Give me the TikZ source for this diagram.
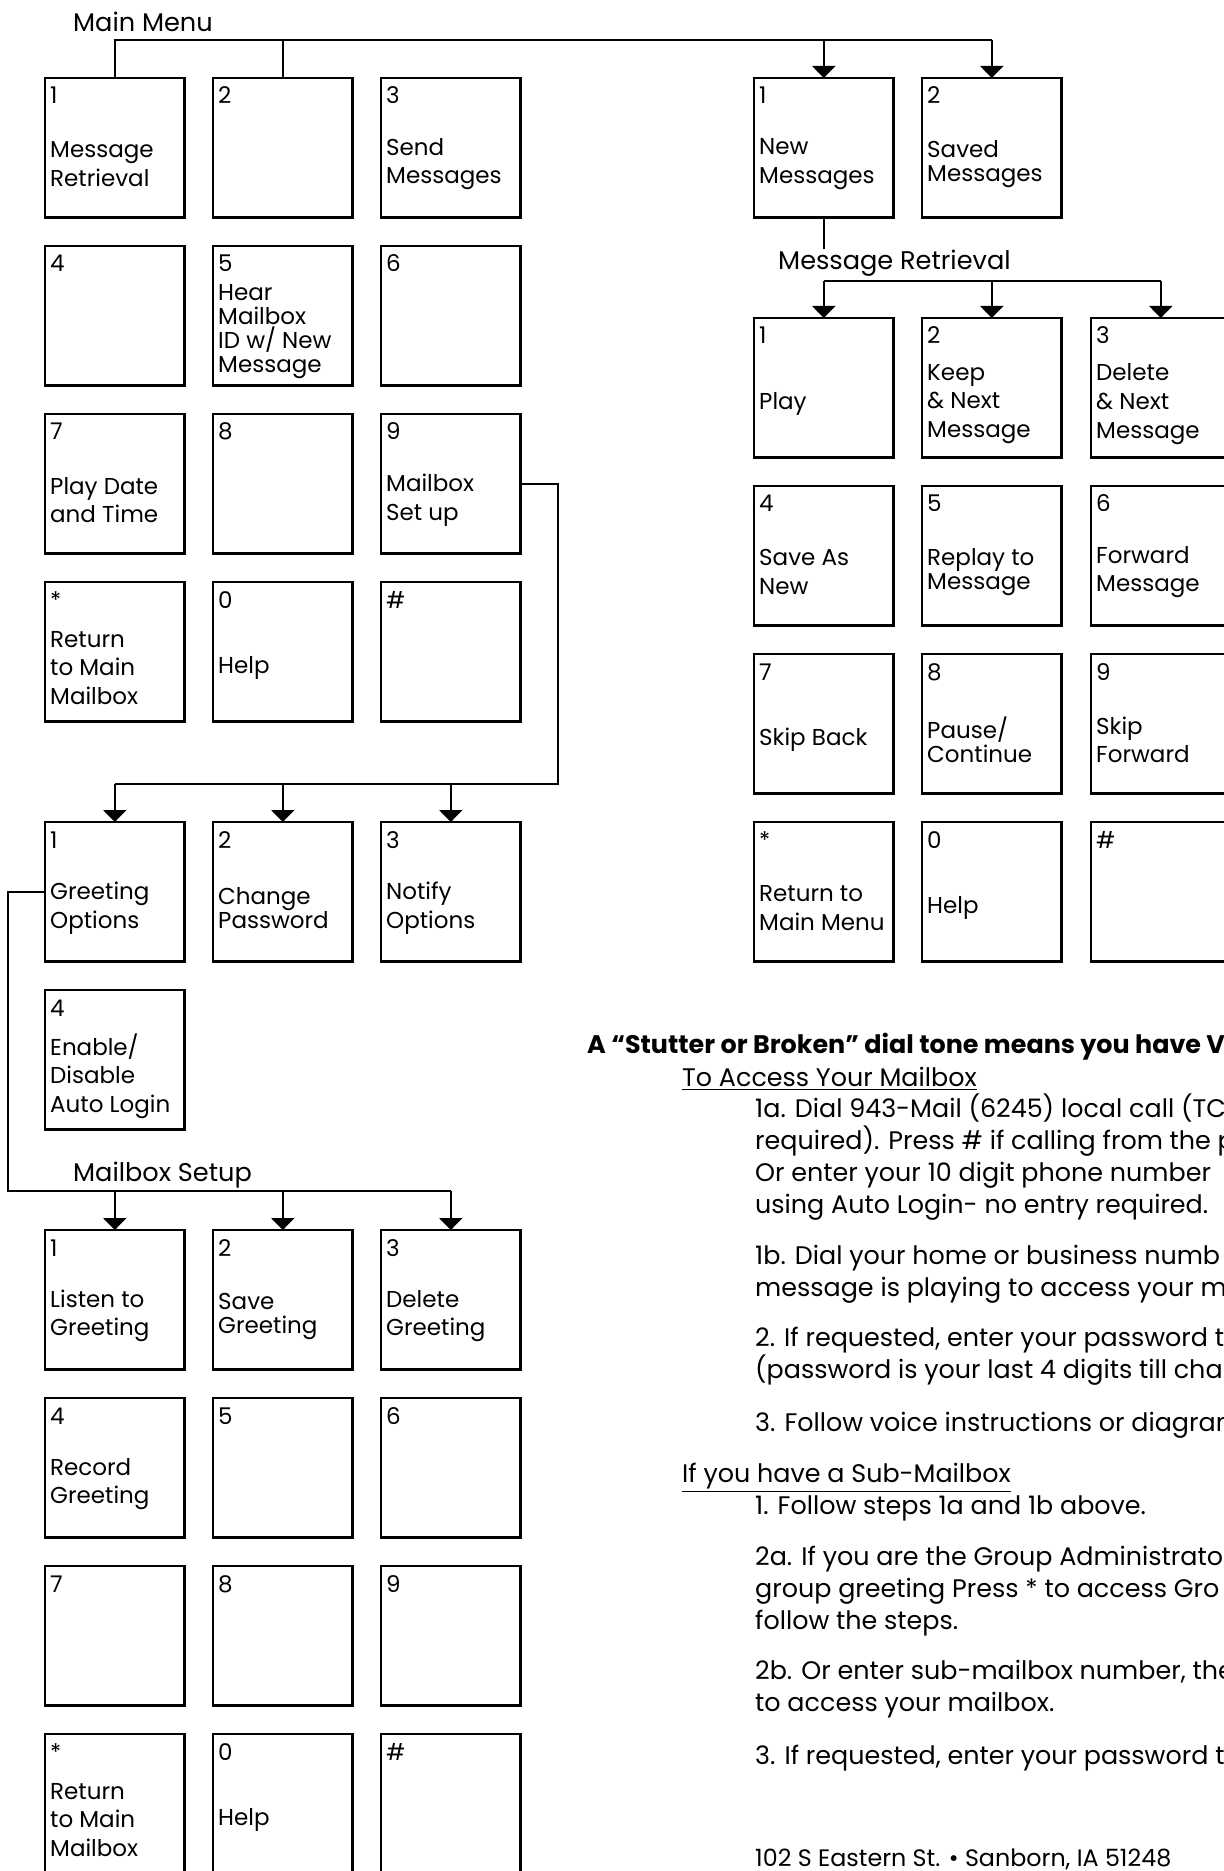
\documentclass[tikz,border=0pt]{standalone}
\usepackage{fontspec}
\setmainfont{Poppins}
\usetikzlibrary{arrows.meta}

\tikzset{every picture/.style={line width=1.2pt}}

\begin{document}
\begin{tikzpicture}[x=0.5pt,y=-0.5pt,
  key/.style={draw, minimum width=69.8pt, minimum height=69.8pt, inner sep=0pt, outer sep=0pt, anchor=north west},
  keynum/.style={anchor=base west, inner sep=0pt, font=\fontsize{11.5}{14}\selectfont},
  keytxt/.style={anchor=west, align=left, inner sep=0pt, font=\fontsize{11.5}{14.3}\selectfont},
  keytight/.style={keytxt, font=\fontsize{11.5}{12}\selectfont},
  head/.style={anchor=base west, inner sep=0pt, font=\fontsize{12.8}{15}\selectfont},
  para/.style={anchor=base west, align=left, inner sep=0pt, font=\fontsize{12.7}{15.9}\selectfont},
  tip/.style={-{Triangle[width=11.5pt,length=6pt]}}]
\useasboundingbox (0,0) rectangle (1223,1871);

%Main Menu keys
\node[head] (mmhead) at (72,32) {Main Menu};
\node[key] (mm1) at (45,78) {};
\node[keynum] (mm1n) at ([shift={(4,26)}]mm1.north west) {1};
\node[keytxt] (mm1t) at ([shift={(4,86)}]mm1.north west) {Message\\Retrieval};
\node[key] (mm2) at (213,78) {};
\node[keynum] (mm2n) at ([shift={(4,26)}]mm2.north west) {2};
\node[key] (mm3) at (381,78) {};
\node[keynum] (mm3n) at ([shift={(4,26)}]mm3.north west) {3};
\node[keytxt] (mm3t) at ([shift={(4,86)}]mm3.north west) {Send\\Messages};
\node[key] (mm4) at (45,246) {};
\node[keynum] (mm4n) at ([shift={(4,26)}]mm4.north west) {4};
\node[key] (mm5) at (213,246) {};
\node[keynum] (mm5n) at ([shift={(4,26)}]mm5.north west) {5};
\node[keytight] (mm5t) at ([shift={(4,86)}]mm5.north west) {Hear\\Mailbox\\ID w/ New\\Message};
\node[key] (mm6) at (381,246) {};
\node[keynum] (mm6n) at ([shift={(4,26)}]mm6.north west) {6};
\node[key] (mm7) at (45,414) {};
\node[keynum] (mm7n) at ([shift={(4,26)}]mm7.north west) {7};
\node[keytxt] (mm7t) at ([shift={(4,86)}]mm7.north west) {Play Date\\and Time};
\node[key] (mm8) at (213,414) {};
\node[keynum] (mm8n) at ([shift={(4,26)}]mm8.north west) {8};
\node[key] (mm9) at (381,414) {};
\node[keynum] (mm9n) at ([shift={(4,26)}]mm9.north west) {9};
\node[keytxt] (mm9t) at ([shift={(4,86)}]mm9.north west) {Mailbox\\Set up};
\node[key] (mmstar) at (45,582) {};
\node[keynum] (mmstarn) at ([shift={(4,26)}]mmstar.north west) {*};
\node[keytxt] (mmstart) at ([shift={(4,86)}]mmstar.north west) {Return\\to Main\\Mailbox};
\node[key] (mm0) at (213,582) {};
\node[keynum] (mm0n) at ([shift={(4,26)}]mm0.north west) {0};
\node[keytxt] (mm0t) at ([shift={(4,86)}]mm0.north west) {Help};
\node[key] (mmhash) at (381,582) {};
\node[keynum] (mmhashn) at ([shift={(4,26)}]mmhash.north west) {\#};

%Mailbox set up keys
\node[key] (su1) at (45,822) {};
\node[keynum] (su1n) at ([shift={(4,26)}]su1.north west) {1};
\node[keytxt] (su1t) at ([shift={(4,86)}]su1.north west) {Greeting\\Options};
\node[key] (su2) at (213,822) {};
\node[keynum] (su2n) at ([shift={(4,26)}]su2.north west) {2};
\node[keytight] (su2t) at ([shift={(4,86)}]su2.north west) {Change\\Password};
\node[key] (su3) at (381,822) {};
\node[keynum] (su3n) at ([shift={(4,26)}]su3.north west) {3};
\node[keytxt] (su3t) at ([shift={(4,86)}]su3.north west) {Notify\\Options};
\node[key] (su4) at (45,990) {};
\node[keynum] (su4n) at ([shift={(4,26)}]su4.north west) {4};
\node[keytxt] (su4t) at ([shift={(4,86)}]su4.north west) {Enable/\\Disable\\Auto Login};

%Greeting keys
\node[head] (grhead) at (72,1181) {Mailbox Setup};
\node[key] (gr1) at (45,1230) {};
\node[keynum] (gr1n) at ([shift={(4,26)}]gr1.north west) {1};
\node[keytxt] (gr1t) at ([shift={(4,86)}]gr1.north west) {Listen to\\Greeting};
\node[key] (gr2) at (213,1230) {};
\node[keynum] (gr2n) at ([shift={(4,26)}]gr2.north west) {2};
\node[keytight] (gr2t) at ([shift={(4,86)}]gr2.north west) {Save\\Greeting};
\node[key] (gr3) at (381,1230) {};
\node[keynum] (gr3n) at ([shift={(4,26)}]gr3.north west) {3};
\node[keytxt] (gr3t) at ([shift={(4,86)}]gr3.north west) {Delete\\Greeting};
\node[key] (gr4) at (45,1398) {};
\node[keynum] (gr4n) at ([shift={(4,26)}]gr4.north west) {4};
\node[keytxt] (gr4t) at ([shift={(4,86)}]gr4.north west) {Record\\Greeting};
\node[key] (gr5) at (213,1398) {};
\node[keynum] (gr5n) at ([shift={(4,26)}]gr5.north west) {5};
\node[key] (gr6) at (381,1398) {};
\node[keynum] (gr6n) at ([shift={(4,26)}]gr6.north west) {6};
\node[key] (gr7) at (45,1566) {};
\node[keynum] (gr7n) at ([shift={(4,26)}]gr7.north west) {7};
\node[key] (gr8) at (213,1566) {};
\node[keynum] (gr8n) at ([shift={(4,26)}]gr8.north west) {8};
\node[key] (gr9) at (381,1566) {};
\node[keynum] (gr9n) at ([shift={(4,26)}]gr9.north west) {9};
\node[key] (grstar) at (45,1734) {};
\node[keynum] (grstarn) at ([shift={(4,26)}]grstar.north west) {*};
\node[keytxt] (grstart) at ([shift={(4,86)}]grstar.north west) {Return\\to Main\\Mailbox};
\node[key] (gr0) at (213,1734) {};
\node[keynum] (gr0n) at ([shift={(4,26)}]gr0.north west) {0};
\node[keytxt] (gr0t) at ([shift={(4,86)}]gr0.north west) {Help};
\node[key] (grhash) at (381,1734) {};
\node[keynum] (grhashn) at ([shift={(4,26)}]grhash.north west) {\#};

%Message retrieval keys
\node[key] (nm) at (754,78) {};
\node[keynum] (nmn) at ([shift={(4,26)}]nm.north west) {1};
\node[keytxt] (nmt) at ([shift={(4,86)}]nm.north west) {New\\Messages};
\node[key] (sm) at (922,78) {};
\node[keynum] (smn) at ([shift={(4,26)}]sm.north west) {2};
\node[keytight] (smt) at ([shift={(4,86)}]sm.north west) {Saved\\Messages};

%Playback keys
\node[head] (mrhead) at (777,270) {Message Retrieval};
\node[key] (pb1) at (754,318) {};
\node[keynum] (pb1n) at ([shift={(4,26)}]pb1.north west) {1};
\node[keytxt] (pb1t) at ([shift={(4,86)}]pb1.north west) {Play};
\node[key] (pb2) at (922,318) {};
\node[keynum] (pb2n) at ([shift={(4,26)}]pb2.north west) {2};
\node[keytxt] (pb2t) at ([shift={(4,86)}]pb2.north west) {Keep\\\& Next\\Message};
\node[key] (pb3) at (1091,318) {};
\node[keynum] (pb3n) at ([shift={(4,26)}]pb3.north west) {3};
\node[keytxt] (pb3t) at ([shift={(4,86)}]pb3.north west) {Delete\\\& Next\\Message};
\node[key] (pb4) at (754,486) {};
\node[keynum] (pb4n) at ([shift={(4,26)}]pb4.north west) {4};
\node[keytxt] (pb4t) at ([shift={(4,86)}]pb4.north west) {Save As\\New};
\node[key] (pb5) at (922,486) {};
\node[keynum] (pb5n) at ([shift={(4,26)}]pb5.north west) {5};
\node[keytight] (pb5t) at ([shift={(4,86)}]pb5.north west) {Replay to\\Message};
\node[key] (pb6) at (1091,486) {};
\node[keynum] (pb6n) at ([shift={(4,26)}]pb6.north west) {6};
\node[keytxt] (pb6t) at ([shift={(4,86)}]pb6.north west) {Forward\\Message};
\node[key] (pb7) at (754,654) {};
\node[keynum] (pb7n) at ([shift={(4,26)}]pb7.north west) {7};
\node[keytxt] (pb7t) at ([shift={(4,86)}]pb7.north west) {Skip Back};
\node[key] (pb8) at (922,654) {};
\node[keynum] (pb8n) at ([shift={(4,26)}]pb8.north west) {8};
\node[keytight] (pb8t) at ([shift={(4,86)}]pb8.north west) {Pause/\\Continue};
\node[key] (pb9) at (1091,654) {};
\node[keynum] (pb9n) at ([shift={(4,26)}]pb9.north west) {9};
\node[keytxt] (pb9t) at ([shift={(4,86)}]pb9.north west) {Skip\\Forward};
\node[key] (pbstar) at (754,822) {};
\node[keynum] (pbstarn) at ([shift={(4,26)}]pbstar.north west) {*};
\node[keytxt] (pbstart) at ([shift={(4,86)}]pbstar.north west) {Return to\\Main Menu};
\node[key] (pb0) at (922,822) {};
\node[keynum] (pb0n) at ([shift={(4,26)}]pb0.north west) {0};
\node[keytxt] (pb0t) at ([shift={(4,86)}]pb0.north west) {Help};
\node[key] (pbhash) at (1091,822) {};
\node[keynum] (pbhashn) at ([shift={(4,26)}]pbhash.north west) {\#};

%Connectors
\coordinate (mmbar) at (0,40);
\draw (mm1.north) |- (sm.north |- mmbar);
\draw (mm2.north) -- (mm2.north |- mmbar);
\draw[tip] (nm.north |- mmbar) -- (nm.north);
\draw[tip] (sm.north |- mmbar) -- (sm.north);

\draw (nm.south) -- (nm.south |- mrhead.north);
\coordinate (mrbar) at (0,281);
\draw (pb1.north |- mrbar) -- (pb3.north |- mrbar);
\draw[tip] (pb1.north |- mrbar) -- (pb1.north);
\draw[tip] (pb2.north |- mrbar) -- (pb2.north);
\draw[tip] (pb3.north |- mrbar) -- (pb3.north);

\coordinate (subar) at (558,784);
\draw (mm9.east) -| (subar) -- (su1.north |- subar);
\draw[tip] (su1.north |- subar) -- (su1.north);
\draw[tip] (su2.north |- subar) -- (su2.north);
\draw[tip] (su3.north |- subar) -- (su3.north);

\coordinate (grbar) at (8,1191);
\draw (su1.west) -| (grbar) -- (gr3.north |- grbar);
\draw[tip] (gr1.north |- grbar) -- (gr1.north);
\draw[tip] (gr2.north |- grbar) -- (gr2.north);
\draw[tip] (gr3.north |- grbar) -- (gr3.north);

% Text Node (base = last line of each block)
\node[para, font=\bfseries\fontsize{12.7}{15.9}\selectfont] (tone) at (586,1053) {A “Stutter or Broken” dial tone means you have Vo};
\node[para] (access) at (681,1086) {\underline{To Access Your Mailbox}};
\node[para] (step1a) at (754,1213) {1a. Dial 943-Mail (6245) local call (TC\\required). Press \# if calling from the p\\Or enter your 10 digit phone number\\using Auto Login- no entry required.};
\node[para] (step1b) at (754,1296) {1b. Dial your home or business numb\\message is playing to access your m};
\node[para] (step2) at (754,1378) {2. If requested, enter your password t\\(password is your last 4 digits till chan};
\node[para] (step3) at (754,1431) {3. Follow voice instructions or diagram};
\node[para] (sub) at (681,1482) {\underline{If you have a Sub-Mailbox}};
\node[para] (sub1) at (754,1514) {1. Follow steps 1a and 1b above.};
\node[para] (sub2a) at (754,1629) {2a. If you are the Group Administrato\\group greeting Press * to access Gro\\follow the steps.};
\node[para] (sub2b) at (754,1711) {2b. Or enter sub-mailbox number, the\\to access your mailbox.};
\node[para] (sub3) at (754,1764) {3. If requested, enter your password t};
\node[para, font=\fontsize{11.9}{14}\selectfont] (addr) at (754,1866) {102 S Eastern St. \textbullet{} Sanborn, IA 51248};

\end{tikzpicture}
\end{document}
